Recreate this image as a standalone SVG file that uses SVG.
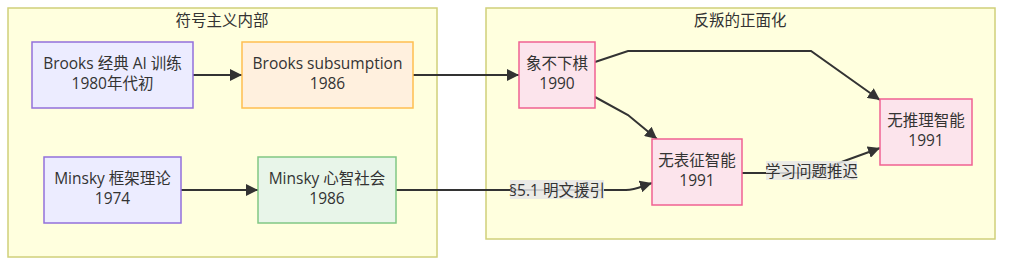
<svg xmlns="http://www.w3.org/2000/svg" width="1024" height="265" viewBox="0 0 1024 265">
<style>
text{font-family:"Open Sans","Liberation Sans","Noto Sans CJK SC",sans-serif;fill:#333;font-size:15.5px;text-anchor:middle;dominant-baseline:central}
.cl{fill:#ffffde;stroke:#d0d07a;stroke-width:1.5}
.p{fill:#ececff;stroke:#9370db;stroke-width:1.5}
.o{fill:#fff0de;stroke:#ffbf50;stroke-width:1.5}
.g{fill:#e8f5e9;stroke:#81c784;stroke-width:1.5}
.k{fill:#fce4ec;stroke:#f06292;stroke-width:1.5}
.e{fill:none;stroke:#333;stroke-width:2;marker-end:url(#arr)}
.lb{fill:#e8e8e8;opacity:0.85}
</style>
<defs>
<marker id="arr" viewBox="0 0 10 10" refX="10" refY="5" markerUnits="userSpaceOnUse" markerWidth="12" markerHeight="12" orient="auto">
<path d="M0,0 L10,5 L0,10 z" fill="#333"/>
</marker>
</defs>
<rect width="1024" height="265" fill="#fff"/>
<g id="cluster-symbolic">
<rect class="cl" x="8" y="8" width="429" height="249"/>
<text x="222" y="20">符号主义内部</text>
</g>
<g id="cluster-rebel">
<rect class="cl" x="486" y="8" width="509" height="231"/>
<text x="740" y="20">反叛的正面化</text>
</g>
<g id="connectors">
<path class="e" d="M193,75 L242,75"/>
<path class="e" d="M181,190 L258,190"/>
<path class="e" d="M413,75 L519,75"/>
<path class="e" d="M396,190 L626,190 C636,190 642,186 652,183"/>
<path class="e" d="M595,62 L628,51 L811,51 L880,100"/>
<path class="e" d="M595,97 L628,115 L657,139"/>
<path class="e" d="M742,173 L812,173 L847,160 L880,148"/>
<rect class="lb" x="510" y="180" width="94" height="19"/>
<text x="557" y="189.5">§5.1 明文援引</text>
<rect class="lb" x="766" y="161" width="91" height="19"/>
<text x="811.5" y="170.5">学习问题推迟</text>
</g>
<g id="brooks-classic">
<rect class="p" x="32" y="42" width="161" height="66"/>
<text x="112.5" y="63">Brooks 经典 AI 训练</text>
<text x="112.5" y="83">1980年代初</text>
</g>
<g id="brooks-subsumption">
<rect class="o" x="242" y="42" width="171" height="66"/>
<text x="327.5" y="63">Brooks subsumption</text>
<text x="327.5" y="83">1986</text>
</g>
<g id="minsky-frames">
<rect class="p" x="44" y="157" width="137" height="66"/>
<text x="112.5" y="178">Minsky 框架理论</text>
<text x="112.5" y="198">1974</text>
</g>
<g id="minsky-society">
<rect class="g" x="258" y="157" width="138" height="66"/>
<text x="327" y="178">Minsky 心智社会</text>
<text x="327" y="198">1986</text>
</g>
<g id="elephants">
<rect class="k" x="519" y="42" width="76" height="66"/>
<text x="557" y="63">象不下棋</text>
<text x="557" y="83">1990</text>
</g>
<g id="no-representation">
<rect class="k" x="652" y="139" width="90" height="66"/>
<text x="697" y="160">无表征智能</text>
<text x="697" y="180">1991</text>
</g>
<g id="no-reason">
<rect class="k" x="880" y="99" width="92" height="66"/>
<text x="926" y="120">无推理智能</text>
<text x="926" y="140">1991</text>
</g>
</svg>
